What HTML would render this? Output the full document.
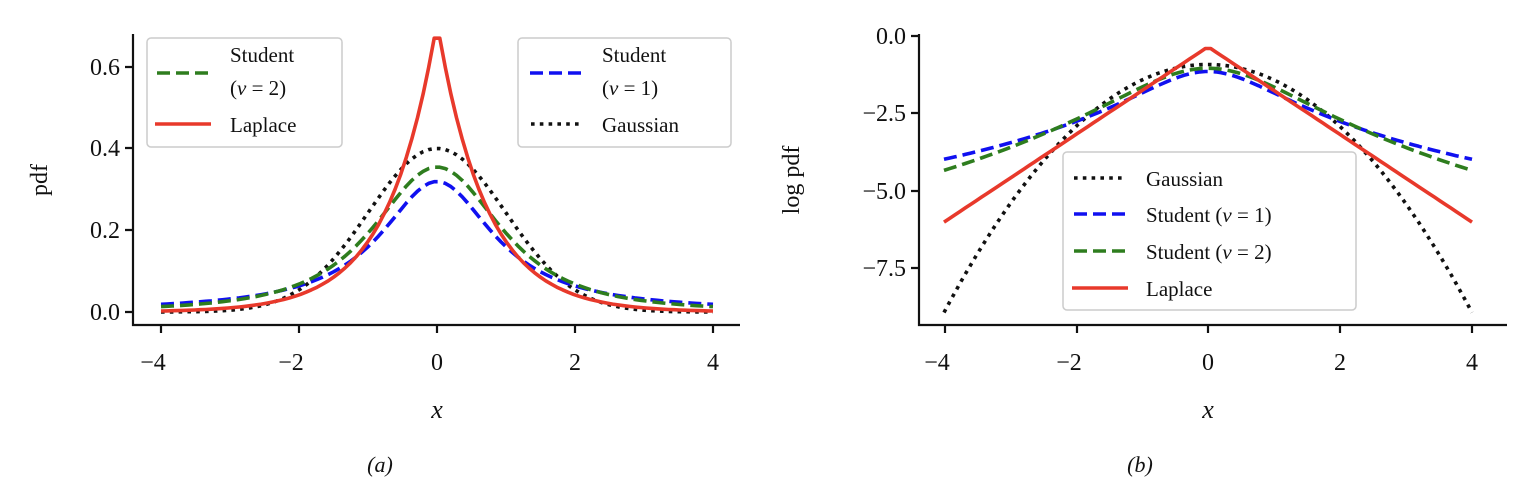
<!DOCTYPE html>
<html><head><meta charset="utf-8"><style>
html,body{margin:0;padding:0;background:#fff;}
svg{display:block;font-family:"Liberation Serif","DejaVu Serif",serif;}
.t{font-size:24px;fill:#111;}
.l{font-size:21px;fill:#111;}
</style></head><body>
<svg id="s" width="1514" height="492" viewBox="0 0 1514 492" xmlns="http://www.w3.org/2000/svg">
<g stroke="#111" stroke-width="2.2" fill="none">
<path d="M133,34 V325 H740"/>
<path d="M161,325v8 M299,325v8 M437,325v8 M575,325v8 M713,325v8"/>
<path d="M133,312h-8 M133,230h-8 M133,148h-8 M133,67h-8"/>
<path d="M919,34 V325 H1507"/>
<path d="M945,325v8 M1077,325v8 M1208,325v8 M1340,325v8 M1472,325v8"/>
<path d="M919,36h-8 M919,113h-8 M919,191h-8 M919,268h-8"/>
</g>
<g class="t" text-anchor="middle">
<text x="153" y="370">−4</text><text x="291" y="370">−2</text><text x="437" y="370">0</text><text x="575" y="370">2</text><text x="713" y="370">4</text>
<text x="937" y="370">−4</text><text x="1069" y="370">−2</text><text x="1208" y="370">0</text><text x="1340" y="370">2</text><text x="1472" y="370">4</text>
<text x="437" y="418" font-style="italic" font-size="26">x</text><text x="1208" y="418" font-style="italic" font-size="26">x</text>
<text x="380" y="472" font-style="italic" font-size="22">(a)</text><text x="1140" y="472" font-style="italic" font-size="22">(b)</text>
</g>
<g class="t" text-anchor="end">
<text x="120" y="320">0.0</text><text x="120" y="238">0.2</text><text x="120" y="156">0.4</text><text x="120" y="75">0.6</text>
<text x="906" y="44">0.0</text><text x="906" y="121">−2.5</text><text x="906" y="199">−5.0</text><text x="906" y="276">−7.5</text>
</g>
<text class="t" transform="translate(47,180) rotate(-90)" text-anchor="middle" font-size="25">pdf</text>
<text class="t" transform="translate(799,180) rotate(-90)" text-anchor="middle" font-size="25">log pdf</text>
<g id="lines"></g>
<g stroke="#ccc" stroke-width="1.5" fill="rgba(255,255,255,0.8)">
<rect x="147" y="38" width="195" height="109" rx="4"/>
<rect x="518" y="38" width="213" height="109" rx="4"/>
<rect x="1063" y="152" width="293" height="158" rx="4"/>
</g>
<g fill="none" stroke-width="3.6">
<path d="M157,73H209" stroke="#2e7d1e" stroke-dasharray="13,6"/>
<path d="M155,124H211" stroke="#e8392b"/>
<path d="M530,73H582" stroke="#1010f0" stroke-dasharray="13,6"/>
<path d="M531,124H582" stroke="#111" stroke-dasharray="3.6,5.2"/>
<path d="M1074,178H1126" stroke="#111" stroke-dasharray="3.6,5.2"/>
<path d="M1074,214H1126" stroke="#1010f0" stroke-dasharray="13,6"/>
<path d="M1074,251H1126" stroke="#2e7d1e" stroke-dasharray="13,6"/>
<path d="M1072,288H1128" stroke="#e8392b"/>
</g>
<g class="l">
<text x="230" y="62">Student</text><text x="230" y="95">(<tspan font-style="italic">ν</tspan> = 2)</text><text x="230" y="132">Laplace</text>
<text x="602" y="62">Student</text><text x="602" y="95">(<tspan font-style="italic">ν</tspan> = 1)</text><text x="602" y="132">Gaussian</text>
<text x="1146" y="186">Gaussian</text>
<text x="1146" y="222">Student (<tspan font-style="italic">ν</tspan> = 1)</text>
<text x="1146" y="259">Student (<tspan font-style="italic">ν</tspan> = 2)</text>
<text x="1146" y="296">Laplace</text>
</g>
</svg>
<script>
(function(){
var N=100,xs=[];for(var i=0;i<N;i++)xs.push(-4+8*i/(N-1));
var b=Math.SQRT1_2;
var f={
g:function(x){return Math.exp(-x*x/2)/Math.sqrt(2*Math.PI);},
c:function(x){return 1/(Math.PI*(1+x*x));},
t:function(x){return 0.35355339*Math.pow(1+x*x/2,-1.5);},
l:function(x){return Math.exp(-Math.abs(x)/b)/(2*b);}
};
var st={g:'stroke="#111" stroke-dasharray="3.6,5.2"',c:'stroke="#1010f0" stroke-dasharray="13,6"',t:'stroke="#2e7d1e" stroke-dasharray="13,6"',l:'stroke="#e8392b"'};
var order=['g','c','t','l'];var h='';
order.forEach(function(k){
var pa='',pb='';
xs.forEach(function(x,i){var y=f[k](x);
pa+=(i?'L':'M')+(437+69*x).toFixed(1)+','+(312-410*y).toFixed(1);
pb+=(i?'L':'M')+(1208+66*x).toFixed(1)+','+(36-31*Math.log(y)).toFixed(1);});
h+='<path d="'+pa+'" fill="none" stroke-width="3.6" stroke-linejoin="round" '+st[k]+'/>';
h+='<path d="'+pb+'" fill="none" stroke-width="3.6" stroke-linejoin="round" '+st[k]+'/>';
});
document.getElementById('lines').innerHTML=h;
})();
</script>
</body></html>
